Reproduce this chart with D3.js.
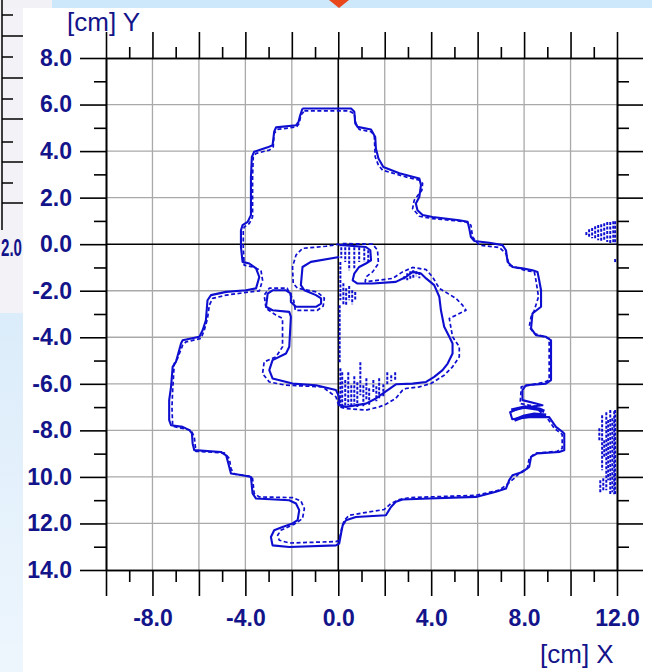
<!DOCTYPE html>
<html>
<head>
<meta charset="utf-8">
<script src="https://cdn.jsdelivr.net/npm/d3@7"></script>
<style>
 body { margin: 0; background: #fff; }
 svg { display: block; }
</style>
</head>
<body>
<div id="chart"></div>
<script>
// tick values and their labels (bottom -10/-12/-14 lose the minus sign in the original)
var yTickValues = [8, 6, 4, 2, 0, -2, -4, -6, -8, -10, -12, -14];
var yTickLabels = ["8.0", "6.0", "4.0", "2.0", "0.0", "-2.0", "-4.0", "-6.0", "-8.0", "10.0", "12.0", "14.0"];
var xTickValues = [-10, -8, -6, -4, -2, 0, 2, 4, 6, 8, 10, 12];
var xLabelValues = [-8, -4, 0, 4, 8, 12];
var xLabels = ["-8.0", "-4.0", "0.0", "4.0", "8.0", "12.0"];
var minorX = [-9, -7, -5, -3, -1, 1, 3, 5, 7, 9, 11];
var minorY = [7, 5, 3, 1, -1, -3, -5, -7, -9, -11, -13];

// outer contour, solid (cm)
var outerSolid = [[-1.54,5.83],[0.55,5.83],[0.69,5.69],[0.73,5.19],[0.83,5.04],[1.41,4.93],[1.59,4.61],[1.62,4.11],
 [1.73,3.68],[1.94,3.32],[2.63,3.05],[3.49,2.82],[3.56,2.54],[3.49,2.03],[3.34,1.75],[3.41,1.46],[3.63,1.25],[4.06,1.17],
 [5.21,1.03],[5.57,0.96],[5.64,0.67],[5.71,0.31],[5.85,0.14],[6.50,0.06],[7.07,-0.04],[7.22,-0.26],[7.29,-0.76],[7.50,-0.98],
 [7.93,-1.04],[8.36,-1.12],[8.58,-1.20],[8.65,-1.55],[8.73,-1.98],[8.73,-2.69],[8.36,-2.98],[8.30,-3.62],[8.51,-3.91],[8.94,-3.98],
 [9.16,-4.13],[9.16,-5.84],[8.94,-5.99],[8.08,-6.06],[7.93,-6.27],[7.93,-6.70],[8.51,-6.85],[8.79,-6.92],[7.79,-7.05],[7.40,-7.22],
 [7.49,-7.52],[8.22,-7.43],[9.08,-7.43],[9.37,-7.85],[9.66,-8.07],[9.73,-8.14],[9.73,-8.85],[9.51,-8.93],[8.57,-8.99],[8.30,-9.14],
 [8.22,-9.57],[7.93,-9.79],[7.50,-9.93],[7.36,-10.14],[7.22,-10.50],[6.79,-10.64],[5.93,-10.86],[3.92,-10.93],[2.77,-10.97],[2.48,-11.07],
 [2.27,-11.29],[2.05,-11.65],[0.76,-11.72],[0.33,-11.86],[0.19,-12.08],[0.12,-12.43],[0.04,-12.86],[-0.10,-12.94],[-2.11,-13.01],[-2.83,-12.94],
 [-2.90,-12.58],[-2.76,-12.29],[-2.40,-12.15],[-1.97,-12.00],[-1.75,-11.86],[-1.68,-11.43],[-1.82,-11.14],[-2.11,-11.00],[-3.54,-10.93],[-3.69,-10.71],
 [-3.76,-10.00],[-4.12,-9.93],[-4.62,-9.85],[-4.77,-9.28],[-4.83,-9.07],[-5.05,-8.93],[-6.20,-8.85],[-6.27,-8.56],[-6.30,-8.13],[-6.41,-7.99],
 [-6.70,-7.85],[-7.20,-7.78],[-7.28,-7.56],[-7.28,-6.70],[-7.20,-6.13],[-7.13,-5.27],[-6.99,-5.06],[-6.77,-4.27],[-6.70,-4.13],[-5.98,-3.98],
 [-5.84,-3.70],[-5.70,-3.27],[-5.63,-2.41],[-5.48,-2.19],[-4.83,-2.05],[-3.97,-1.98],[-3.54,-1.90],[-3.40,-1.41],[-3.54,-1.04],[-3.83,-0.83],
 [-4.12,-0.76],[-4.19,-0.12],[-4.19,0.60],[-4.12,0.82],[-3.90,0.96],[-3.76,1.25],[-3.76,2.89],[-3.72,3.75],[-3.62,3.97],[-3.04,4.16],
 [-2.83,4.25],[-2.76,4.83],[-2.68,5.02],[-1.82,5.11],[-1.71,5.26],[-1.64,5.54],[-1.54,5.83]];

// outer contour, dashed (cm)
var outerDashed = [[-1.46,5.73],[0.47,5.73],[0.69,5.59],[0.76,5.19],[0.90,4.93],[1.41,4.83],[1.55,4.68],[1.59,3.75],
 [1.73,3.39],[1.91,3.18],[2.91,2.89],[3.49,2.75],[3.63,2.61],[3.60,2.32],[3.27,1.89],[3.20,1.53],[3.49,1.20],[4.06,1.10],
 [5.50,0.96],[5.71,0.82],[5.78,0.31],[6.07,-0.04],[6.93,-0.14],[7.22,-0.40],[7.36,-0.90],[8.01,-1.12],[8.44,-1.19],[8.51,-1.55],
 [8.62,-2.26],[8.44,-2.84],[8.30,-3.12],[8.22,-3.55],[8.44,-3.84],[9.08,-4.05],[9.08,-5.84],[8.87,-5.93],[7.88,-6.13],[7.83,-6.85],
 [8.44,-6.96],[9.00,-7.48],[9.30,-7.91],[9.64,-8.17],[9.64,-8.77],[9.43,-8.90],[8.48,-8.98],[8.22,-9.20],[8.14,-9.63],[7.79,-9.84],
 [7.65,-10.00],[7.22,-10.36],[6.93,-10.57],[5.93,-10.79],[3.92,-10.86],[3.06,-10.89],[2.63,-10.97],[2.27,-11.14],[1.98,-11.40],[1.05,-11.55],
 [0.47,-11.65],[0.26,-11.86],[0.16,-12.15],[0.04,-12.72],[-0.10,-12.78],[-2.11,-12.84],[-2.54,-12.72],[-2.61,-12.51],[-2.47,-12.29],[-1.89,-12.03],
 [-1.54,-11.79],[-1.46,-11.36],[-1.61,-11.03],[-1.97,-10.89],[-3.40,-10.86],[-3.62,-10.71],[-3.69,-10.07],[-3.83,-9.97],[-4.48,-9.88],[-4.62,-9.64],
 [-4.69,-9.21],[-4.91,-8.97],[-6.13,-8.90],[-6.20,-8.28],[-6.34,-7.99],[-6.70,-7.92],[-7.13,-7.82],[-7.16,-6.99],[-7.13,-6.27],[-7.06,-5.13],
 [-6.92,-4.91],[-6.70,-4.34],[-6.56,-4.20],[-5.91,-4.05],[-5.77,-3.70],[-5.63,-3.19],[-5.55,-2.62],[-5.41,-2.33],[-4.83,-2.19],[-3.83,-2.05],
 [-3.40,-2.01],[-3.26,-1.55],[-3.33,-1.12],[-3.69,-0.98],[-4.05,-0.90],[-4.09,-0.12],[-4.09,0.60],[-4.05,0.74],[-3.83,0.89],[-3.69,1.17],
 [-3.69,2.89],[-3.66,3.75],[-3.54,3.90],[-2.97,4.04],[-2.80,4.18],[-2.76,4.76],[-2.61,4.93],[-1.80,5.04],[-1.68,5.19],[-1.61,5.54],[-1.46,5.73]];

// inner contour, solid (cm)
var innerSolid = [[0.04,-0.04],[0.19,-0.04],[1.19,-0.12],[1.38,-0.26],[1.41,-0.69],[1.19,-0.83],[0.90,-0.98],[0.69,-1.26],
 [0.62,-1.55],[0.83,-1.69],[1.48,-1.69],[2.48,-1.62],[2.91,-1.41],[3.20,-1.19],[3.56,-1.26],[3.78,-1.47],[4.13,-1.76],[4.35,-2.26],
 [4.42,-2.84],[4.56,-3.55],[4.78,-3.98],[4.92,-4.27],[4.92,-4.70],[4.71,-5.13],[4.49,-5.41],[4.13,-5.70],[3.78,-5.92],[3.20,-5.99],
 [2.48,-6.02],[1.91,-6.42],[1.62,-6.63],[1.19,-6.85],[0.33,-6.99],[0.04,-6.92],[0.04,-6.56],[-0.10,-6.27],[-0.96,-6.06],[-1.97,-5.99],
 [-2.83,-5.77],[-2.97,-5.41],[-2.83,-4.98],[-2.25,-4.70],[-2.11,-4.41],[-2.04,-3.12],[-2.11,-2.91],[-2.83,-2.84],[-3.11,-2.69],[-3.04,-2.12],
 [-2.83,-1.98],[-2.25,-1.98],[-2.04,-2.12],[-2.04,-2.48],[-1.82,-2.69],[-0.96,-2.69],[-0.74,-2.55],[-0.74,-2.33],[-0.96,-2.19],[-1.46,-1.98],
 [-1.61,-1.76],[-1.54,-0.98],[-1.18,-0.76],[0.04,-0.55]];

// inner contour, dashed (cm)
var innerDashed = [[0.19,0.03],[1.48,0.00],[1.69,-0.26],[1.73,-0.83],[1.48,-1.19],[1.19,-1.41],[1.16,-1.62],[2.34,-1.47],
 [2.77,-1.19],[3.20,-1.00],[3.78,-1.09],[4.06,-1.41],[4.35,-1.90],[5.07,-2.33],[5.35,-2.62],[5.50,-2.84],[5.07,-3.05],[4.78,-3.19],
 [4.92,-3.98],[5.21,-4.41],[5.21,-4.84],[4.92,-5.27],[4.56,-5.63],[3.99,-5.99],[3.49,-6.13],[2.91,-6.20],[2.77,-6.27],[2.48,-6.62],
 [2.05,-6.88],[1.76,-6.99],[1.19,-7.13],[0.33,-7.06],[0.04,-6.99],[-0.10,-6.56],[-0.68,-6.13],[-2.25,-6.06],[-2.97,-5.92],[-3.26,-5.56],
 [-3.19,-5.06],[-2.68,-4.84],[-2.40,-4.41],[-2.40,-3.19],[-2.68,-3.05],[-3.11,-2.76],[-3.19,-2.19],[-2.97,-1.89],[-2.20,-1.89],[-2.11,-2.11],
 [-1.92,-2.41],[-1.85,-2.84],[-0.90,-2.84],[-0.65,-2.66],[-0.60,-2.32],[-0.90,-2.06],[-1.76,-1.89],[-1.94,-1.68],[-1.97,-0.98],[-1.82,-0.47],
 [-1.54,-0.18],[-0.53,-0.09],[0.04,0.00]];

// double strand near the right wiggle (cm)
var wiggleA = [[7.45,-7.13],[8.01,-7.00],[8.65,-7.09],[8.87,-7.18]];
var wiggleB = [[7.58,-7.56],[8.01,-7.39],[8.44,-7.31],[8.95,-7.35]];

// scattered streaks: [x, yTop, yBottom] (cm)
var streaks = [
 [0.09,-5.33,-6.96],[0.17,-5.50,-7.00],[0.30,-5.84,-7.00],[0.43,-5.50,-6.92],[0.56,-6.06,-7.00],[0.69,-5.67,-6.88],
 [0.82,-5.93,-7.00],[0.95,-5.07,-6.49],[1.08,-6.06,-6.96],[1.21,-5.76,-6.70],[1.33,-6.19,-6.92],[1.51,-5.84,-6.36],
 [1.64,-6.10,-6.75],[1.76,-5.76,-6.62],[1.94,-6.02,-6.53],[2.11,-5.50,-6.02],[2.28,-5.63,-5.89],[2.45,-5.50,-5.84],
 [0.09,-0.77,-2.41],[0.22,-1.68,-2.62],[0.34,-1.89,-2.66],[0.47,-1.80,-2.41],[0.60,-1.98,-2.58],[0.73,-2.06,-2.41],
 [0.13,-0.13,-0.60],[0.30,-0.13,-0.77],[0.47,-0.13,-1.12],[0.69,-0.13,-1.03],[0.90,-0.13,-0.77],[1.12,-0.17,-0.77],[1.29,-0.26,-0.77],
 [2.84,-1.38,-1.55],[2.97,-1.25,-1.55],[3.10,-1.16,-1.50],[3.23,-1.12,-1.46],[3.36,-1.16,-1.38],[3.49,-1.20,-1.46],
 [0.06,-2.62,-5.07],
 [10.68,0.52,0.34],[10.80,0.64,0.30],[10.93,0.69,0.26],[11.06,0.77,0.21],[11.19,0.82,0.17],[11.32,0.86,0.13],
 [11.45,0.90,0.17],[11.58,0.95,0.09],[11.71,0.95,0.04],[11.84,0.99,0.04],[11.92,0.99,0.00],[11.92,-0.64,-0.77],
 [11.24,-7.91,-8.42],[11.36,-7.35,-9.71],[11.45,-8.42,-9.20],[11.54,-7.22,-10.57],[11.62,-7.56,-10.14],[11.71,-7.13,-10.79],
 [11.80,-7.48,-10.66],[11.88,-7.18,-10.74],[11.92,-7.13,-10.79],[11.28,-10.14,-10.66],[11.41,-10.06,-10.57]
];

var width = 652;
var height = 672;
var navy = "#14148a";
var blue = "#0e0ed0";
var font = "'Liberation Sans', Arial, sans-serif";

var svg = d3.select("#chart")
    .append("svg")
    .attr("width", width)
    .attr("height", height);

// --- screenshot surroundings ---
svg.append("rect").attr("width", width).attr("height", height).attr("fill", "#fff");
svg.append("rect").attr("x", 0).attr("y", 0).attr("width", 52).attr("height", 8).attr("fill", "#f2f2f6");
svg.append("rect").attr("x", 52).attr("y", 0).attr("width", 600).attr("height", 8).attr("fill", "#cce8fa");
svg.append("path").attr("d", "M329,0 L349,0 L339,8 Z").attr("fill", "#e8481c");

var defs = svg.append("defs");
var grad = defs.append("linearGradient").attr("id", "sideGrad").attr("x1", 0).attr("y1", 0).attr("x2", 0).attr("y2", 1);
grad.append("stop").attr("offset", "0%").attr("stop-color", "#dbecfa");
grad.append("stop").attr("offset", "100%").attr("stop-color", "#eef6fd");

svg.append("rect").attr("x", 0).attr("y", 8).attr("width", 23).attr("height", 305).attr("fill", "#f3f3f7");
svg.append("rect").attr("x", 0).attr("y", 313).attr("width", 23).attr("height", height - 313).attr("fill", "url(#sideGrad)");

// piece of the neighbouring chart's axis
var side = svg.append("g");
side.append("line").attr("x1", 2).attr("y1", 0).attr("x2", 2).attr("y2", 230).attr("stroke", "#000").attr("stroke-width", 1.5);
[15, 36, 57, 78, 99, 119, 142, 162, 183, 203].forEach(function(t, i) {
  side.append("line").attr("x1", 2).attr("y1", t).attr("x2", i % 2 ? 23 : 13).attr("y2", t)
      .attr("stroke", "#000").attr("stroke-width", 1.5);
});
side.append("text").attr("x", 1).attr("y", 256)
    .attr("textLength", 21).attr("lengthAdjust", "spacingAndGlyphs")
    .attr("font-family", font).attr("font-size", 23).attr("font-weight", "bold").attr("fill", navy).text("2.0");

// --- scales ---
var x = d3.scaleLinear().domain([-10, 12]).range([106, 617]);
var y = d3.scaleLinear().domain([8, -14]).range([58, 570]);

// grid
var grid = svg.append("g");
grid.selectAll(".gx").data(xTickValues.filter(function(d) { return d > -10 && d < 12 && d !== 0; }))
  .enter().append("line")
  .attr("x1", function(d) { return x(d); }).attr("x2", function(d) { return x(d); })
  .attr("y1", y(8)).attr("y2", y(-14))
  .attr("stroke", "#a9a9a9").attr("stroke-width", 1.3);
grid.selectAll(".gy").data(yTickValues.filter(function(d) { return d < 8 && d > -14 && d !== 0; }))
  .enter().append("line")
  .attr("y1", function(d) { return y(d); }).attr("y2", function(d) { return y(d); })
  .attr("x1", x(-10)).attr("x2", x(12))
  .attr("stroke", "#a9a9a9").attr("stroke-width", 1.3);

// zero lines
svg.append("line").attr("x1", x(0)).attr("x2", x(0)).attr("y1", y(8)).attr("y2", y(-14))
    .attr("stroke", "#000").attr("stroke-width", 1.6);
svg.append("line").attr("x1", x(-10)).attr("x2", x(12)).attr("y1", y(0)).attr("y2", y(0))
    .attr("stroke", "#000").attr("stroke-width", 1.6);

// --- curves ---
var line = d3.line()
    .x(function(d) { return x(d[0]); })
    .y(function(d) { return y(d[1]); });

var curves = svg.append("g").attr("fill", "none").attr("stroke", blue).attr("stroke-linejoin", "round");

curves.selectAll(".streak").data(streaks).enter().append("line")
  .attr("x1", function(d) { return x(d[0]); }).attr("x2", function(d) { return x(d[0]); })
  .attr("y1", function(d) { return y(d[1]); }).attr("y2", function(d) { return y(d[2]); })
  .attr("stroke-width", 2)
  .attr("stroke-dasharray", "3,1.5");

curves.append("path").attr("d", line(outerDashed)).attr("stroke-width", 1.7).attr("stroke-dasharray", "4,2.5");
curves.append("path").attr("d", line(innerDashed)).attr("stroke-width", 1.7).attr("stroke-dasharray", "4,2.5");
curves.append("path").attr("d", line(outerSolid)).attr("stroke-width", 2.1);
curves.append("path").attr("d", line(innerSolid)).attr("stroke-width", 2.1);
curves.append("path").attr("d", line(wiggleA)).attr("stroke-width", 3.5);
curves.append("path").attr("d", line(wiggleB)).attr("stroke-width", 3.5);

// --- axes (ticks on all four sides) ---
function styleAxis(g) {
  g.selectAll("path").attr("stroke", "#000").attr("stroke-width", 1.6);
  g.selectAll("line").attr("stroke", "#000").attr("stroke-width", 1.6);
  g.selectAll("text").attr("font-family", font).attr("font-size", 23).attr("font-weight", "bold").attr("fill", navy);
}

var yLabelOf = function(d) { return yTickLabels[yTickValues.indexOf(d)]; };
var xLabelOf = function(d) { var i = xLabelValues.indexOf(d); return i < 0 ? "" : xLabels[i]; };

svg.append("g").attr("transform", "translate(" + x(-10) + ",0)")
  .call(d3.axisLeft(y).tickValues(minorY).tickSize(12).tickSizeOuter(0).tickFormat(""))
  .call(styleAxis);
svg.append("g").attr("transform", "translate(" + x(-10) + ",0)")
  .call(d3.axisLeft(y).tickValues(yTickValues).tickSize(26).tickPadding(8).tickSizeOuter(0).tickFormat(yLabelOf))
  .call(styleAxis);

svg.append("g").attr("transform", "translate(" + x(12) + ",0)")
  .call(d3.axisRight(y).tickValues(minorY).tickSize(12).tickSizeOuter(0).tickFormat(""))
  .call(styleAxis);
svg.append("g").attr("transform", "translate(" + x(12) + ",0)")
  .call(d3.axisRight(y).tickValues(yTickValues).tickSize(26).tickSizeOuter(0).tickFormat(""))
  .call(styleAxis);

svg.append("g").attr("transform", "translate(0," + y(8) + ")")
  .call(d3.axisTop(x).tickValues(minorX).tickSize(11).tickSizeOuter(0).tickFormat(""))
  .call(styleAxis);
svg.append("g").attr("transform", "translate(0," + y(8) + ")")
  .call(d3.axisTop(x).tickValues(xTickValues).tickSize(26).tickSizeOuter(0).tickFormat(""))
  .call(styleAxis);

svg.append("g").attr("transform", "translate(0," + y(-14) + ")")
  .call(d3.axisBottom(x).tickValues(minorX).tickSize(12).tickSizeOuter(0).tickFormat(""))
  .call(styleAxis);
svg.append("g").attr("transform", "translate(0," + y(-14) + ")")
  .call(d3.axisBottom(x).tickValues(xTickValues).tickSize(26).tickPadding(14).tickSizeOuter(0).tickFormat(xLabelOf))
  .call(styleAxis);

// axis titles
svg.append("text").attr("x", 67).attr("y", 31)
  .attr("font-family", font).attr("font-size", 26).attr("fill", navy).text("[cm] Y");
svg.append("text").attr("x", 540).attr("y", 663)
  .attr("font-family", font).attr("font-size", 26).attr("fill", navy).text("[cm] X");
</script>
</body>
</html>
